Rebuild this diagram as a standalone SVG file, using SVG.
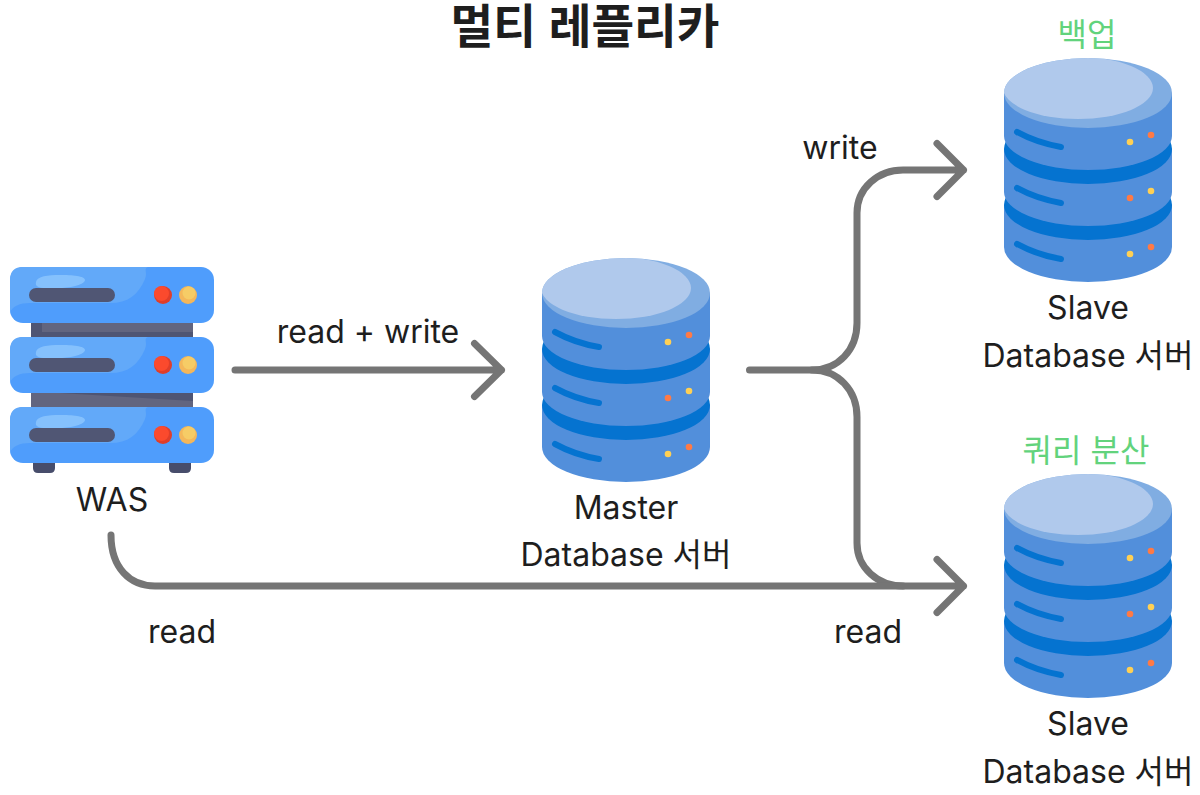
<svg xmlns="http://www.w3.org/2000/svg" xmlns:xlink="http://www.w3.org/1999/xlink" width="1200" height="795" viewBox="0 0 1200 795">
<style>
text{font-family:Inter,"Noto Sans CJK KR","Noto Sans",sans-serif;font-size:32px;fill:#1e1e1e;text-anchor:middle}
.title{font-family:"Liberation Sans","Noto Sans CJK KR",sans-serif;font-size:46.400px;font-weight:700}
.green{fill:#62d37c}
.conn{fill:none;stroke:#757575;stroke-width:7;stroke-linecap:round;stroke-linejoin:round}
.sec{fill:#528fdb}.band{fill:#0573d0}
.ln{fill:none;stroke:#0573d0;stroke-width:6;stroke-linecap:round}
.y{fill:#ffd054}.o{fill:#ff7a45}
.b{fill:#4f9dfc}.l{fill:#62a9f9}.h{fill:#85c1fd}.bar{fill:#505674}
.r{fill:#df3e2a}.r2{fill:#fb4a2d}.a{fill:#f4b75a}.a2{fill:#f6cc66}
</style>
<defs>
<clipPath id="top"><ellipse cx="84" cy="35" rx="84" ry="35"/></clipPath>
<g id="db">
<path class="sec" d="M0,147V189A84,35 0 0 0 168,189V147Z"/>
<ellipse class="band" cx="84" cy="147" rx="84" ry="35"/>
<path class="sec" d="M0,91V134A84,34 0 0 0 168,134V91Z"/>
<ellipse class="band" cx="84" cy="91" rx="84" ry="35"/>
<path class="sec" d="M0,35V78A84,34 0 0 0 168,78V35Z"/>
<ellipse cx="84" cy="35" rx="84" ry="35" fill="#80ade2"/>
<ellipse cx="74" cy="30" rx="75" ry="31" fill="#b0c9ec" clip-path="url(#top)"/>
<path class="ln" d="M13,74Q33,85 57,89"/><path class="ln" d="M13,130Q33,141 57,145"/><path class="ln" d="M13,186Q33,197 57,201"/>
<circle class="y" cx="126" cy="84" r="3.300"/><circle class="o" cx="147" cy="77" r="3.300"/>
<circle class="o" cx="126" cy="140" r="3.300"/><circle class="y" cx="147" cy="133" r="3.300"/>
<circle class="y" cx="126" cy="196" r="3.300"/><circle class="o" cx="147" cy="189" r="3.300"/>
</g>
<g id="unit">
<rect class="b" width="204" height="56" rx="13"/>
<path class="l" d="M13,0H138C133,2 138,5 135,12C128,28 118,36 100,36H20C10,36 2,39 0,46V13Q0,0 13,0Z"/>
<path class="h" d="M26,15C27,9 38,8 50,8C62,8 75,9 75,13C75,17 62,21 50,21H36C28,21 25,19 26,15Z"/>
<rect class="bar" x="19" y="21" width="86" height="14" rx="7"/>
<circle class="r" cx="153" cy="28" r="9"/><circle class="r2" cx="151.500" cy="26.500" r="7.500"/>
<circle class="a" cx="178" cy="28" r="9"/><circle class="a2" cx="179" cy="26" r="6.500"/>
</g>
</defs>
<text class="title" x="585" y="42.500">멀티 레플리카</text>
<g id="connectors">
<path class="conn" d="M235,370H501.500M474.500,343.500L501.500,370L474.500,396.500"/>
<path class="conn" d="M749.500,370H812C838,370 857,350 857,323V213C857,188 878,170 903,170H963.500M937,143.500L963.500,170L937,196.500"/>
<path class="conn" d="M812,370C838,370 857,390 857,417V543C857,568 878,586 903,586"/>
<path class="conn" d="M111,535C111,568 130,586 155,586H963.500M937,559.500L963.500,586L937,612.500"/>
</g>
<g id="was">
<rect x="31" y="320" width="162" height="90" fill="#4f5573"/>
<path d="M42,323H193V332H42Z" fill="#62657f"/>
<path d="M31,393H60L193,401V407H31Z" fill="#62657f"/>
<path d="M33,463H55V468Q55,473 50,473H38Q33,473 33,468Z" fill="#474d6b"/>
<path d="M169,463H191V468Q191,473 186,473H174Q169,473 169,468Z" fill="#474d6b"/>
<use xlink:href="#unit" href="#unit" x="10" y="267"/>
<use xlink:href="#unit" href="#unit" x="10" y="337"/>
<use xlink:href="#unit" href="#unit" x="10" y="407"/>
<text x="112" y="511">WAS</text>
</g>
<g id="master">
<use xlink:href="#db" href="#db" x="542" y="258"/>
<text x="626" y="519">Master</text>
<text x="626" y="566">Database 서버</text>
</g>
<g id="slave1">
<use xlink:href="#db" href="#db" x="1004" y="58"/>
<text class="green" x="1087" y="46">백업</text>
<text x="1088" y="319">Slave</text>
<text x="1088" y="367">Database 서버</text>
</g>
<g id="slave2">
<use xlink:href="#db" href="#db" x="1004" y="474"/>
<text class="green" x="1086" y="462">쿼리 분산</text>
<text x="1088" y="735">Slave</text>
<text x="1088" y="783">Database 서버</text>
</g>
<text x="368" y="343">read + write</text>
<text x="840" y="159">write</text>
<text x="182" y="643">read</text>
<text x="868" y="643">read</text>
</svg>
